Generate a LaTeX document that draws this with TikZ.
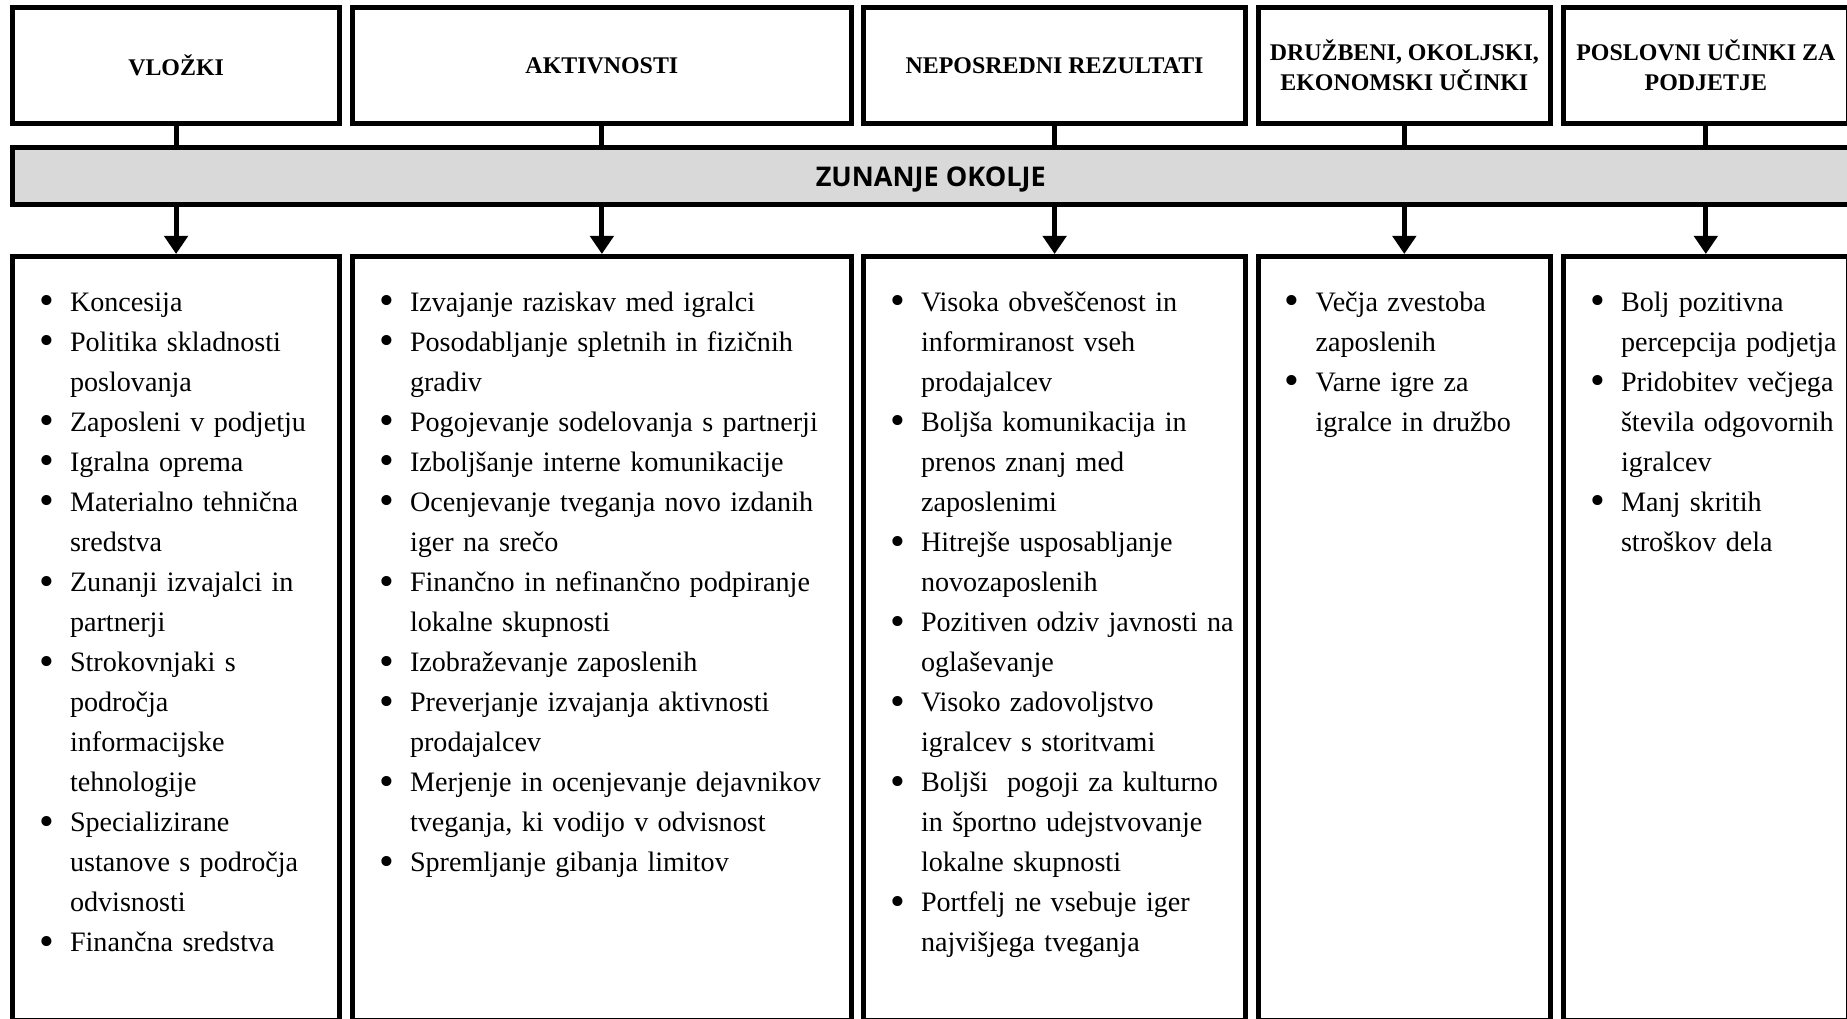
\documentclass[tikz,border=0pt]{standalone}
\usepackage{fontspec}
\setmainfont{Liberation Serif}
\newfontfamily\bandfamily{Open Sans}
\usepackage{graphicx}
\usepackage{enumitem}
\usepackage{tikz}
\usetikzlibrary{arrows.meta}
\usetikzlibrary{positioning}

\definecolor{bandgray}{HTML}{D9D9D9}

\newcommand{\headfont}{\fontsize{6.8pt}{8.54pt}\selectfont\bfseries}
\newcommand{\listfont}{\fontsize{8.0pt}{11.38pt}\selectfont}
\newcommand{\bandfont}{\bandfamily\bfseries\fontsize{7.7pt}{9pt}\selectfont}
\newcommand{\listdot}{\raisebox{-0.12em}{\scalebox{1.5}{\textbullet}}}

\setlist[itemize]{label={\hskip0.34cm\makebox[0pt]{\listdot}}, align=left,
  leftmargin=0.575cm, labelwidth=0.575cm, labelsep=0pt, labelindent=0pt,
  topsep=0pt, partopsep=0pt, itemsep=0pt, parsep=0pt, rightmargin=-1cm}

\begin{document}
\begin{tikzpicture}[x=0.01cm, y=-0.01cm,
      headbox/.style ={rectangle, draw, line width=0.05cm, outer sep=0pt, anchor=north west,
                       minimum height=1.16cm, align=center, font=\headfont},
      envband/.style ={rectangle, draw, line width=0.05cm, outer sep=0pt, anchor=north west,
                       fill=bandgray, minimum height=0.565cm, text depth=0pt, font=\bandfont},
      listbox/.style ={rectangle, draw, line width=0.05cm, outer sep=0pt, anchor=north west,
                       inner sep=0pt, text height=0.15cm, text depth=7.49cm, align=left, font=\listfont},
      tiebar/.style  ={line width=0.05cm},
      downarrow/.style={line width=0.05cm, shorten >=0.025cm, -{Triangle[length=0.18cm, width=0.23cm]}}
    ]
    \useasboundingbox (0,0) rectangle (1847,1019);

    \node [headbox, minimum width=3.27cm] (vlozki) at (12.5,7.5) {VLOŽKI} ;
    \node [headbox, minimum width=4.985cm] (aktiv) at (352.5,7.5) {AKTIVNOSTI} ;
    \node [headbox, minimum width=3.82cm] (rezult) at (863.5,7.5) {NEPOSREDNI REZULTATI} ;
    \node [headbox, minimum width=2.925cm] (ucinki) at (1258,7.5) {DRUŽBENI, OKOLJSKI,\\EKONOMSKI UČINKI} ;
    \node [headbox, minimum width=2.845cm] (poslov) at (1563.5,7.5) {POSLOVNI UČINKI ZA\\PODJETJE} ;

    \node [envband, minimum width=18.355cm] (okolje) at (12.5,148) {ZUNANJE OKOLJE} ;

    \node [listbox, text width=3.27cm] (vlozkiTxt) at (12.5,256.5) {%
      \begin{itemize}
        \item Koncesija
        \item Politika skladnosti\\poslovanja
        \item Zaposleni v podjetju
        \item Igralna oprema
        \item Materialno tehnična\\sredstva
        \item Zunanji izvajalci in\\partnerji
        \item Strokovnjaki s\\področja\\informacijske\\tehnologije
        \item Specializirane\\ustanove s področja\\odvisnosti
        \item Finančna sredstva
      \end{itemize}} ;
    \node [listbox, text width=4.985cm] (aktivTxt) at (352.5,256.5) {%
      \begin{itemize}
        \item Izvajanje raziskav med igralci
        \item Posodabljanje spletnih in fizičnih\\gradiv
        \item Pogojevanje sodelovanja s partnerji
        \item Izboljšanje interne komunikacije
        \item Ocenjevanje tveganja novo izdanih\\iger na srečo
        \item Finančno in nefinančno podpiranje\\lokalne skupnosti
        \item Izobraževanje zaposlenih
        \item Preverjanje izvajanja aktivnosti\\prodajalcev
        \item Merjenje in ocenjevanje dejavnikov\\tveganja, ki vodijo v odvisnost
        \item Spremljanje gibanja limitov
      \end{itemize}} ;
    \node [listbox, text width=3.82cm] (rezultTxt) at (863.5,256.5) {%
      \begin{itemize}
        \item Visoka obveščenost in\\informiranost vseh\\prodajalcev
        \item Boljša komunikacija in\\prenos znanj med\\zaposlenimi
        \item Hitrejše usposabljanje\\novozaposlenih
        \item Pozitiven odziv javnosti na\\oglaševanje
        \item Visoko zadovoljstvo\\igralcev s storitvami
        \item Boljši\ \ pogoji za kulturno\\in športno udejstvovanje\\lokalne skupnosti
        \item Portfelj ne vsebuje iger\\najvišjega tveganja
      \end{itemize}} ;
    \node [listbox, text width=2.925cm] (ucinkiTxt) at (1258,256.5) {%
      \begin{itemize}
        \item Večja zvestoba\\zaposlenih
        \item Varne igre za\\igralce in družbo
      \end{itemize}} ;
    \node [listbox, text width=2.845cm] (poslovTxt) at (1563.5,256.5) {%
      \begin{itemize}
        \item Bolj pozitivna\\percepcija podjetja
        \item Pridobitev večjega\\števila odgovornih\\igralcev
        \item Manj skritih\\stroškov dela
      \end{itemize}} ;

    \draw [tiebar] (vlozki) -- (vlozki |- okolje.north) ;
    \draw [tiebar] (aktiv) -- (aktiv |- okolje.north) ;
    \draw [tiebar] (rezult) -- (rezult |- okolje.north) ;
    \draw [tiebar] (ucinki) -- (ucinki |- okolje.north) ;
    \draw [tiebar] (poslov) -- (poslov |- okolje.north) ;

    \draw [downarrow] (vlozki |- okolje.south) -- (vlozkiTxt) ;
    \draw [downarrow] (aktiv |- okolje.south) -- (aktivTxt) ;
    \draw [downarrow] (rezult |- okolje.south) -- (rezultTxt) ;
    \draw [downarrow] (ucinki |- okolje.south) -- (ucinkiTxt) ;
    \draw [downarrow] (poslov |- okolje.south) -- (poslovTxt) ;
  \end{tikzpicture}
\end{document}
